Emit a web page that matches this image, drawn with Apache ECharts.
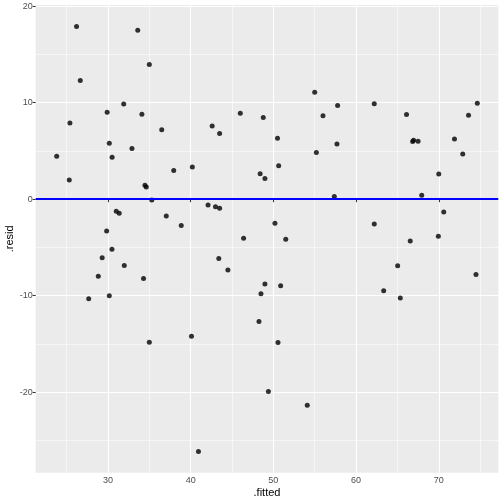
<!DOCTYPE html>
<html>
<head>
<meta charset="utf-8">
<script src="https://cdn.jsdelivr.net/npm/echarts@6/dist/echarts.min.js"></script>
<style>
  html, body { margin: 0; padding: 0; background: #fff; }
  #main { width: 504px; height: 504px; }
</style>
</head>
<body>
<div id="main"></div>
<script>
// fitted values and residuals
var fitted = [23.8, 25.32, 25.4, 26.2, 26.65, 29.9, 30.16, 30.5, 31.9, 32.9,
  33.6, 34.1, 35.0, 34.47, 34.63, 35.3, 36.5, 37.95, 40.2, 37.05,
  38.86, 31.0, 31.36, 29.84, 30.48, 42.1, 42.6, 43.5, 43.0, 43.5,
  46.0, 46.4, 48.4, 48.98, 48.78, 50.5, 50.64, 50.19, 51.5, 55.0,
  55.2, 56.0, 57.77, 57.69, 57.37, 62.2, 62.2, 66.1, 66.84, 66.96,
  67.5, 67.94, 66.55, 70.0, 70.6, 69.95, 71.9, 72.9, 73.6, 74.66,
  29.3, 28.83, 27.67, 30.16, 31.97, 34.3, 35.0, 40.1, 40.94, 43.4,
  44.5, 48.5, 48.26, 48.98, 50.88, 50.56, 49.4, 54.1, 65.03, 63.34,
  65.35, 74.5];
var resid = [4.46, 2.0, 7.9, 17.9, 12.3, 9.0, 5.8, 4.35, 9.88, 5.25,
  17.5, 8.8, 13.95, 1.45, 1.27, -0.07, 7.2, 2.97, 3.35, -1.73,
  -2.73, -1.25, -1.45, -3.29, -5.2, -0.59, 7.6, 6.8, -0.77, -0.93,
  8.9, -4.06, 2.65, 2.14, 8.46, 6.32, 3.48, -2.49, -4.15, 11.09,
  4.83, 8.66, 9.7, 5.73, 0.27, 9.9, -2.56, 8.77, 5.97, 6.11,
  6.0, 0.41, -4.32, 2.62, -1.32, -3.84, 6.25, 4.69, 8.7, 9.95,
  -6.08, -7.98, -10.33, -10.02, -6.88, -8.23, -14.82, -14.2, -26.15, -6.15,
  -7.33, -9.81, -12.68, -8.78, -8.98, -14.86, -19.94, -21.35, -6.91, -9.5,
  -10.23, -7.81];

var xTicks = [30, 40, 50, 60, 70];
var xMinor = [25, 35, 45, 55, 65, 75];
var yTicks = [-20, -10, 0, 10, 20];
var yMinor = [-25, -15, -5, 5, 15];
var xRange = [21.26, 77.2];
var yRange = [-28.35, 20.13];

var points = fitted.map(function (f, i) { return [f, resid[i]]; });

var chart = echarts.init(document.getElementById('main'));

var font = 'Liberation Sans';

function majorAxis(name, ticks, range, isX) {
  return {
    type: 'value',
    min: range[0],
    max: range[1],
    name: name,
    nameLocation: 'middle',
    nameGap: isX ? 15 : 20,
    nameMoveOverlap: false,
    nameTextStyle: { color: '#000', fontSize: 11, fontFamily: font },
    axisLine: { show: false },
    axisTick: {
      show: true, length: 3, customValues: ticks,
      lineStyle: { color: '#333', width: 1 }
    },
    axisLabel: {
      show: true, customValues: ticks, margin: 3,
      color: '#4D4D4D', fontSize: 9, fontFamily: font
    },
    splitLine: { show: true, lineStyle: { color: '#fff', width: 1.1 } }
  };
}

function minorAxis(ticks, range) {
  return {
    type: 'value',
    min: range[0],
    max: range[1],
    axisLine: { show: false },
    axisTick: { show: false, customValues: ticks },
    axisLabel: { show: false, customValues: ticks },
    splitLine: { show: true, lineStyle: { color: '#fff', width: 0.55 } }
  };
}

var option = {
  animation: false,
  backgroundColor: '#fff',
  grid: {
    left: 35.7, right: 5.7, top: 5, bottom: 31.3,
    containLabel: false,
    outerBoundsMode: 'none',
    show: true, backgroundColor: '#EBEBEB', borderWidth: 0
  },
  xAxis: [
    majorAxis('.fitted', xTicks, xRange, true),
    minorAxis(xMinor, xRange)
  ],
  yAxis: [
    majorAxis('.resid', yTicks, yRange, false),
    minorAxis(yMinor, yRange)
  ],
  series: [{
    type: 'scatter',
    xAxisIndex: 0,
    yAxisIndex: 0,
    data: points,
    symbolSize: 5,
    itemStyle: { color: '#000' },
    z: 3,
    markLine: {
      silent: true,
      symbol: 'none',
      label: { show: false },
      lineStyle: { color: '#0000FF', width: 2.2, type: 'solid' },
      data: [{ yAxis: 0 }],
      z: 4
    }
  }]
};

chart.setOption(option);
</script>
</body>
</html>
